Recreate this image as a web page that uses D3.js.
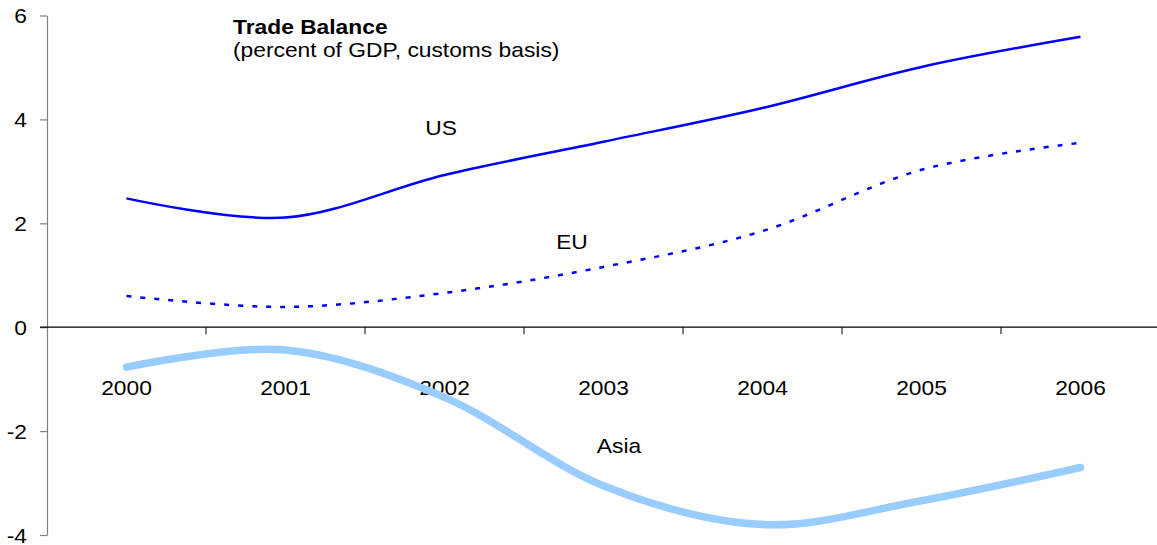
<!DOCTYPE html>
<html>
<head>
<meta charset="utf-8">
<script src="https://cdn.jsdelivr.net/npm/d3@7"></script>
<style>
  html, body { margin: 0; padding: 0; background: #fff; }
  svg { display: block; font-family: "Liberation Sans", Arial, sans-serif; }
</style>
</head>
<body>
<svg id="chart" width="1157" height="545"></svg>
<script>
// Trade balance, percent of GDP (customs basis)
const years = ["2000", "2001", "2002", "2003", "2004", "2005", "2006"];
const usValues   = [2.48, 2.11, 2.93, 3.57, 4.22, 5.01, 5.59];
const euValues   = [0.60, 0.39, 0.66, 1.16, 1.85, 3.03, 3.55];
const asiaValues = [-0.77, -0.44, -1.35, -3.05, -3.80, -3.34, -2.70];
const yTicks = [-4, -2, 0, 2, 4, 6];

const svg = d3.select("#chart");
const WIDEN = 1.14; // glyphs are drawn slightly wide

const x = d3.scaleBand().domain(years).range([47, 1160]);
const y = d3.scaleLinear().domain([-4, 6]).range([535, 15.5]);

// places a text at (px, py) and widens it about its anchor
function placeText(sel, px, py) {
  sel.attr("x", null).attr("y", null)
    .attr("transform", (d, i, n) => {
      const X = typeof px === "function" ? px(d, i, n) : px;
      const Y = typeof py === "function" ? py(d, i, n) : py;
      return `translate(${X},${Y}) scale(${WIDEN},1)`;
    });
  return sel;
}

// y axis (gray line with outward ticks)
const yAxis = svg.append("g")
  .attr("transform", "translate(47,0)")
  .call(d3.axisLeft(y).tickValues(yTicks).tickFormat(d => String(d))
    .tickSize(7).tickPadding(13).tickSizeOuter(0));
yAxis.select(".domain").attr("stroke", "#808080").attr("stroke-width", 1.2);
yAxis.selectAll(".tick line").attr("stroke", "#808080").attr("stroke-width", 1.2);
yAxis.selectAll(".tick text")
  .attr("fill", "#000")
  .style("font-size", "20px")
  .attr("dy", "0.36em")
  .attr("x", null)
  .attr("transform", `translate(-20,0) scale(${WIDEN},1)`);

// zero line with category-boundary ticks
const boundaries = years.map(d => x(d)).concat([x.range()[1]]);
const xAxis = svg.append("g");
xAxis.append("line")
  .attr("x1", 40).attr("x2", 1157)
  .attr("y1", y(0)).attr("y2", y(0))
  .attr("stroke", "#000").attr("stroke-width", 1.2);
xAxis.selectAll("line.tick")
  .data(boundaries.slice(1, -1))
  .join("line")
  .attr("class", "tick")
  .attr("x1", d => d).attr("x2", d => d)
  .attr("y1", y(0)).attr("y2", y(0) + 7)
  .attr("stroke", "#000").attr("stroke-width", 1);
xAxis.selectAll("text")
  .data(years)
  .join("text")
  .attr("dy", "0.36em")
  .attr("text-anchor", "middle")
  .style("font-size", "20px")
  .text(d => d)
  .call(placeText, d => x(d) + x.bandwidth() / 2, 388);

const line = d3.line()
  .x((d, i) => x(years[i]) + x.bandwidth() / 2)
  .y(d => y(d))
  .curve(d3.curveCardinal.tension(0));

svg.append("path")
  .datum(asiaValues)
  .attr("d", line)
  .attr("fill", "none")
  .attr("stroke", "#99CCFF")
  .attr("stroke-width", 7.5)
  .attr("stroke-linecap", "round");

svg.append("path")
  .datum(euValues)
  .attr("d", line)
  .attr("fill", "none")
  .attr("stroke", "#0000FF")
  .attr("stroke-width", 2.5)
  .attr("stroke-dasharray", "5,9");

svg.append("path")
  .datum(usValues)
  .attr("d", line)
  .attr("fill", "none")
  .attr("stroke", "#0000FF")
  .attr("stroke-width", 2.5);

// series labels
const labels = [
  { text: "US", x: 441, y: 128 },
  { text: "EU", x: 572, y: 242 },
  { text: "Asia", x: 619, y: 446 }
];
svg.selectAll("text.series")
  .data(labels)
  .join("text")
  .attr("class", "series")
  .attr("dy", "0.36em")
  .attr("text-anchor", "middle")
  .style("font-size", "20px")
  .text(d => d.text)
  .call(placeText, d => d.x, d => d.y);

// title
svg.append("text")
  .style("font-size", "20px")
  .style("font-weight", "bold")
  .text("Trade Balance")
  .call(placeText, 233, 34);
svg.append("text")
  .style("font-size", "20px")
  .text("(percent of GDP, customs basis)")
  .call(placeText, 233, 57);
</script>
</body>
</html>
